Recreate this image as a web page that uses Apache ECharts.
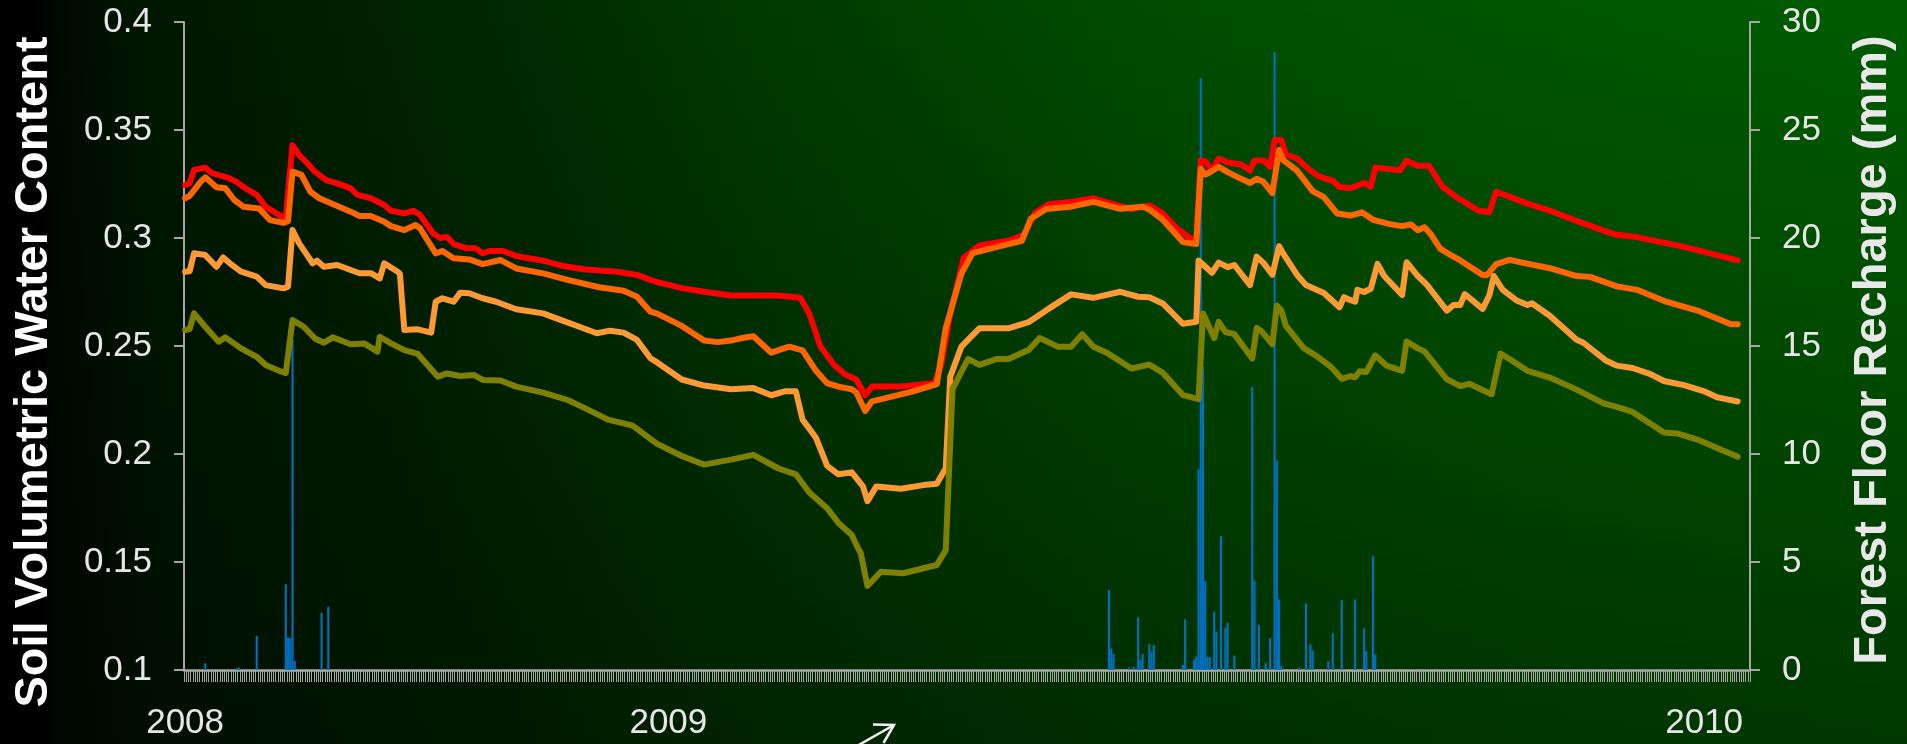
<!DOCTYPE html>
<html>
<head>
<meta charset="utf-8">
<script src="https://cdn.jsdelivr.net/npm/echarts/dist/echarts.min.js"></script>
<style>
html,body{margin:0;padding:0;width:1907px;height:744px;overflow:hidden;background:#000;}
#bg{position:absolute;left:0;top:0;width:1907px;height:744px;
background:
 linear-gradient(to bottom, rgba(0,0,0,0) 0%, rgba(0,0,0,0.4) 100%),
 linear-gradient(to right, #000000 0%, #000000 2%, #000a00 3%, #001800 8%, #002200 20%, #003a00 40%, #004c00 60%, #005600 80%, #005c00 100%);}
#chart{position:absolute;left:0;top:0;width:1907px;height:744px;}
</style>
</head>
<body>
<div id="bg"></div>
<div id="chart"></div>
<script>
// ---- data (day index from start of record) ----
const dayCount = 700;
const yearLabels = ['2008', '2009', '2010'];
const yearLabelDays = [0, 216, 679];

const leftTicks = { min: 0.1, max: 0.4, interval: 0.05 };
const rightTicks = { min: 0, max: 30, interval: 5 };

// Forest floor recharge (mm): day index and amount
const rechargeDays = [9, 23, 24, 32, 45, 46, 47, 48, 49, 61, 64,
  413, 414, 415, 422, 424, 426, 427, 428, 431, 432, 433, 446, 447, 451, 452,
  453, 454, 455, 456, 457, 458, 460, 461, 463, 465, 466, 469, 477, 478, 480,
  483, 485, 487, 488, 489, 490, 498, 501, 503, 504, 511, 513, 517, 523, 527,
  528, 531, 532];
const rechargeMm = [0.31, 0.08, 0.12, 1.57, 3.97, 1.5, 1.5, 15.3, 0.42, 2.65, 2.93,
  3.7, 1.0, 0.74, 0.12, 0.15, 2.44, 0.46, 0.74, 1.2, 0.85, 1.16, 0.23, 2.35, 0.49, 0.62,
  9.3, 27.4, 14.05, 4.13, 0.6, 0.6, 2.71, 1.77, 6.2, 1.95, 2.18, 0.67, 13.1, 4.13, 2.08,
  0.33, 1.47, 28.6, 9.7, 3.27, 0.2, 0.1, 3.09, 1.19, 0.9, 0.4, 1.7, 3.24, 3.27, 1.93,
  0.88, 5.27, 0.72];

// Soil volumetric water content series: [day, value]
const redSeries = [[0,0.3245],[2,0.3253],[4,0.3315],[9,0.3326],[12,0.330],[19,0.328],[23,0.326],[27,0.323],[32,0.320],[36,0.3145],[43,0.310],[45,0.3095],[48,0.343],[51,0.3384],[54,0.3353],[58,0.3307],[63,0.3268],[68,0.3253],[74,0.323],[77,0.320],[83,0.3184],[89,0.3153],[92,0.3126],[98,0.3114],[102,0.3126],[105,0.3107],[111,0.302],[114,0.300],[117,0.3005],[120,0.2972],[126,0.2952],[130,0.2952],[133,0.2929],[136,0.294],[142,0.294],[148,0.2917],[160,0.2895],[169,0.287],[178,0.2855],[193,0.2844],[202,0.2829],[208,0.2806],[211,0.2796],[222,0.2768],[232,0.2751],[244,0.2734],[265,0.2734],[275,0.2723],[279,0.265],[284,0.2497],[290,0.2413],[295,0.2368],[300,0.2345],[304,0.2272],[307,0.2312],[320,0.2312],[335,0.2328],[338,0.2413],[342,0.265],[348,0.2908],[355,0.2965],[368,0.2987],[375,0.3015],[380,0.3117],[386,0.3156],[396,0.3167],[406,0.3184],[415,0.3156],[423,0.3134],[431,0.3151],[437,0.3113],[443,0.3047],[449,0.300],[452,0.299],[454,0.3359],[456,0.3355],[459,0.3312],[462,0.3368],[466,0.335],[472,0.334],[476,0.3312],[478,0.3359],[482,0.3359],[485,0.333],[487,0.3454],[490,0.3454],[492,0.3388],[497,0.3368],[503,0.3312],[507,0.3284],[513,0.3265],[516,0.3236],[521,0.323],[527,0.3255],[530,0.3238],[532,0.3326],[543,0.3313],[546,0.3358],[551,0.3334],[556,0.3334],[562,0.3238],[568,0.3191],[578,0.3127],[583,0.3119],[586,0.3214],[591,0.3195],[600,0.3159],[610,0.3127],[622,0.3079],[635,0.3031],[640,0.3015],[649,0.3004],[670,0.2959],[694,0.2896]];

const orangeSeries = [[0,0.3184],[2,0.3195],[7,0.3261],[9,0.3281],[14,0.3235],[18,0.323],[22,0.3176],[26,0.3145],[33,0.3137],[38,0.3083],[44,0.307],[46,0.3078],[48,0.3307],[52,0.3292],[56,0.3214],[60,0.3184],[68,0.3148],[74,0.3122],[78,0.3102],[83,0.3102],[89,0.3075],[92,0.3055],[98,0.3037],[103,0.306],[105,0.3045],[112,0.2929],[115,0.294],[120,0.2906],[127,0.2901],[133,0.2879],[141,0.2898],[148,0.2859],[160,0.2836],[171,0.2806],[185,0.2772],[196,0.2756],[202,0.2728],[208,0.2659],[211,0.265],[222,0.2593],[232,0.2525],[238,0.2518],[244,0.2525],[249,0.2537],[254,0.2545],[262,0.2469],[270,0.2497],[276,0.248],[282,0.2385],[287,0.2328],[292,0.2312],[298,0.230],[300,0.2285],[304,0.2199],[307,0.2244],[314,0.2261],[325,0.2289],[336,0.2323],[340,0.2582],[347,0.2835],[352,0.293],[363,0.2959],[374,0.2987],[378,0.3089],[385,0.3134],[396,0.3145],[406,0.3167],[418,0.3135],[428,0.3145],[431,0.3132],[437,0.3085],[446,0.2981],[452,0.2972],[454,0.3321],[456,0.3293],[459,0.331],[462,0.333],[466,0.3305],[470,0.3284],[476,0.3255],[479,0.3274],[482,0.326],[486,0.3208],[489,0.3407],[491,0.3359],[497,0.3312],[504,0.3217],[509,0.3189],[515,0.3113],[521,0.3104],[526,0.3119],[531,0.3084],[539,0.3063],[544,0.3055],[548,0.3063],[551,0.3036],[554,0.305],[557,0.3015],[561,0.2951],[566,0.2919],[570,0.2896],[580,0.2829],[582,0.2829],[586,0.2879],[592,0.2899],[601,0.2879],[610,0.286],[622,0.2824],[628,0.282],[640,0.2776],[649,0.276],[662,0.2705],[676,0.2664],[691,0.2601],[694,0.2601]];

const lightOrangeSeries = [[0,0.2844],[2,0.2846],[4,0.2929],[9,0.2921],[14,0.2867],[17,0.291],[20,0.2883],[25,0.2844],[32,0.2821],[36,0.2782],[44,0.2767],[46,0.2775],[48,0.3037],[51,0.2975],[54,0.2929],[57,0.2883],[59,0.2895],[62,0.2867],[68,0.2875],[74,0.2852],[78,0.2837],[83,0.2837],[87,0.2813],[89,0.2883],[95,0.2844],[96,0.2835],[98,0.2574],[104,0.2577],[110,0.2562],[112,0.2705],[115,0.2721],[120,0.2705],[123,0.2747],[127,0.2744],[133,0.2721],[139,0.2705],[148,0.267],[160,0.2651],[166,0.2628],[178,0.2582],[184,0.2559],[190,0.2571],[196,0.2562],[202,0.2528],[208,0.2443],[211,0.2424],[222,0.2345],[232,0.2317],[244,0.230],[254,0.2305],[262,0.2272],[268,0.229],[273,0.229],[276,0.2159],[282,0.2075],[287,0.1945],[292,0.1906],[298,0.1915],[303,0.185],[305,0.1782],[309,0.185],[320,0.1839],[330,0.1856],[336,0.1862],[340,0.1934],[342,0.2357],[347,0.2497],[355,0.2582],[368,0.2582],[377,0.261],[385,0.2666],[396,0.2739],[406,0.2723],[418,0.2751],[426,0.2728],[431,0.2726],[437,0.2697],[446,0.2603],[452,0.2612],[453,0.2896],[459,0.2839],[462,0.2886],[466,0.2865],[469,0.2875],[476,0.2782],[479,0.2914],[482,0.2885],[486,0.283],[489,0.2962],[491,0.2925],[497,0.283],[501,0.2782],[509,0.2745],[516,0.2679],[518,0.2726],[521,0.2712],[523,0.2705],[524,0.276],[527,0.275],[530,0.2765],[533,0.288],[536,0.2824],[544,0.2736],[546,0.2888],[551,0.2824],[555,0.2784],[564,0.2664],[567,0.269],[570,0.269],[572,0.274],[580,0.2672],[583,0.2735],[585,0.2824],[589,0.276],[595,0.2712],[600,0.269],[602,0.2698],[610,0.264],[622,0.2529],[625,0.2515],[635,0.2433],[640,0.2409],[647,0.2398],[655,0.237],[661,0.2338],[670,0.2319],[679,0.229],[685,0.2262],[694,0.2243]];

const oliveSeries = [[0,0.2574],[2,0.2578],[4,0.2651],[9,0.2589],[15,0.252],[18,0.254],[25,0.2489],[32,0.245],[36,0.2412],[43,0.2381],[45,0.2375],[48,0.262],[53,0.2589],[58,0.2535],[62,0.2515],[66,0.254],[74,0.2508],[80,0.2512],[86,0.2474],[87,0.2543],[92,0.2512],[98,0.2481],[104,0.2463],[113,0.2358],[117,0.2373],[123,0.2361],[129,0.2366],[133,0.2343],[141,0.234],[148,0.2312],[160,0.2284],[171,0.225],[178,0.2216],[189,0.2159],[200,0.2131],[211,0.2047],[222,0.1991],[232,0.1951],[244,0.1974],[254,0.1996],[265,0.1934],[273,0.1906],[279,0.1822],[287,0.1749],[292,0.1681],[298,0.1625],[300,0.158],[302,0.1541],[305,0.1389],[311,0.1455],[321,0.1448],[336,0.1486],[340,0.1555],[343,0.23],[350,0.244],[355,0.2413],[363,0.244],[368,0.244],[377,0.2481],[382,0.2537],[390,0.2497],[396,0.2497],[401,0.2554],[406,0.2497],[412,0.2469],[423,0.2396],[431,0.2414],[437,0.2376],[446,0.2273],[453,0.2254],[455,0.265],[460,0.2537],[462,0.2612],[465,0.2565],[469,0.2555],[477,0.2442],[479,0.2584],[481,0.257],[486,0.2508],[488,0.2688],[490,0.2665],[492,0.2594],[500,0.249],[506,0.2452],[512,0.2405],[517,0.2348],[521,0.2361],[523,0.2355],[525,0.2383],[528,0.238],[532,0.2457],[537,0.2409],[544,0.2385],[546,0.2521],[551,0.2489],[554,0.2475],[564,0.2346],[570,0.2314],[574,0.2325],[584,0.2277],[588,0.2465],[593,0.2433],[600,0.2385],[610,0.2354],[622,0.2298],[634,0.2234],[640,0.2218],[647,0.2195],[661,0.2099],[667,0.2095],[676,0.2067],[685,0.2027],[694,0.1987]];

// ---- build chart ----
const days = [];
for (let i = 0; i < dayCount; i++) days.push(String(i));
const rechargeData = rechargeDays.map((d, k) => [d, rechargeMm[k]]);

const FONT = '"Liberation Sans", Arial, sans-serif';
const axisGray = '#a6a6a6';
const labelColor = '#e6e6e6';

const chart = echarts.init(document.getElementById('chart'), null, { renderer: 'canvas' });

function lineSeries(name, data, color) {
  return {
    name, type: 'line', data, yAxisIndex: 0, xAxisIndex: 0,
    showSymbol: false, symbol: 'none', smooth: false,
    lineStyle: { color, width: 6, cap: 'round', join: 'round' },
    z: 3, animation: false
  };
}

chart.setOption({
  backgroundColor: 'transparent',
  animation: false,
  grid: { left: 184, right: 157, top: 22, bottom: 74, containLabel: false },
  xAxis: [{
    type: 'category', data: days, boundaryGap: true,
    axisLine: { show: true, lineStyle: { color: axisGray, width: 2.5 } },
    axisTick: { show: true, interval: 0, length: 12, lineStyle: { color: axisGray, width: 1 } },
    axisLabel: {
      interval: (idx) => yearLabelDays.indexOf(idx) >= 0,
      formatter: (val, idx) => { const k = yearLabelDays.indexOf(Number(val)); return k >= 0 ? yearLabels[k] : ''; },
      color: labelColor, fontFamily: FONT, fontSize: 35, margin: 36
    },
    splitLine: { show: false }
  }],
  yAxis: [{
    type: 'value', position: 'left', min: leftTicks.min, max: leftTicks.max, interval: leftTicks.interval,
    axisLine: { show: true, lineStyle: { color: axisGray, width: 2 } },
    axisTick: { show: true, length: 10, lineStyle: { color: axisGray, width: 2 } },
    axisLabel: { color: labelColor, fontFamily: FONT, fontSize: 35, margin: 32 },
    splitLine: { show: false }
  }, {
    type: 'value', position: 'right', min: rightTicks.min, max: rightTicks.max, interval: rightTicks.interval,
    axisLine: { show: true, lineStyle: { color: axisGray, width: 2 } },
    axisTick: { show: true, length: 10, lineStyle: { color: axisGray, width: 2 } },
    axisLabel: { color: labelColor, fontFamily: FONT, fontSize: 35, margin: 32 },
    splitLine: { show: false }
  }],
  series: [
    {
      name: 'Forest Floor Recharge', type: 'bar', data: rechargeData, xAxisIndex: 0, yAxisIndex: 1,
      barCategoryGap: '5%', itemStyle: { color: '#0070c0' }, z: 2, animation: false
    },
    lineSeries('red', redSeries, '#ff0000'),
    lineSeries('orange', orangeSeries, '#ff6600'),
    lineSeries('lightOrange', lightOrangeSeries, '#ff9933'),
    lineSeries('olive', oliveSeries, '#808000')
  ],
  graphic: [
    { type: 'text', x: 34, y: 372, rotation: Math.PI / 2,
      style: { text: 'Soil Volumetric Water Content', font: 'bold 47px ' + FONT, fill: '#ffffff', align: 'center', verticalAlign: 'middle' } },
    { type: 'text', x: 1873, y: 350, rotation: Math.PI / 2,
      style: { text: 'Forest Floor Recharge (mm)', font: 'bold 47px ' + FONT, fill: '#e8e8e8', align: 'center', verticalAlign: 'middle' } },
    { type: 'polyline', shape: { points: [[857, 746], [894, 725]] }, style: { stroke: '#f2f2f2', lineWidth: 2.5, fill: null } },
    { type: 'polyline', shape: { points: [[873, 724.5], [894, 725], [883.5, 743]] }, style: { stroke: '#f2f2f2', lineWidth: 2.5, fill: null } }
  ]
});
</script>
</body>
</html>
